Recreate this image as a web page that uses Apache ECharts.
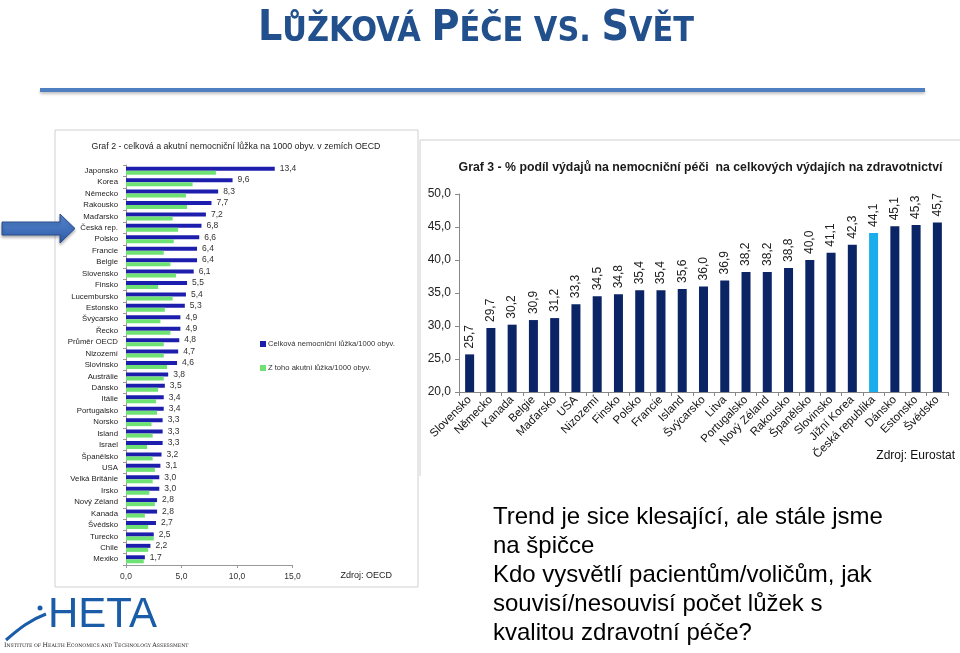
<!DOCTYPE html>
<html>
<head>
<meta charset="utf-8">
<script src="https://cdn.jsdelivr.net/npm/echarts@6/dist/echarts.min.js"></script>
<style>
html,body{margin:0;padding:0;background:#fff;}
#c{width:960px;height:653px;}
</style>
</head>
<body>
<div id="c"></div>
<script>
// Graf 2 data
var cat2 = ['Japonsko','Korea','Německo','Rakousko','Maďarsko','Česká rep.','Polsko','Francie','Belgie','Slovensko','Finsko','Lucembursko','Estonsko','Švýcarsko','Řecko','Průměr OECD','Nizozemí','Slovinsko','Austrálie','Dánsko','Itálie','Portugalsko','Norsko','Island','Israel','Španělsko','USA','Velká Británie','Irsko','Nový Zéland','Kanada','Švédsko','Turecko','Chile','Mexiko'];
var total2 = [13.4,9.6,8.3,7.7,7.2,6.8,6.6,6.4,6.4,6.1,5.5,5.4,5.3,4.9,4.9,4.8,4.7,4.6,3.8,3.5,3.4,3.4,3.3,3.3,3.3,3.2,3.1,3.0,3.0,2.8,2.8,2.7,2.5,2.2,1.7];
var acute2 = [8.1,6.0,5.4,5.5,4.2,4.7,4.3,3.4,4.0,4.5,2.9,4.2,3.5,3.1,4.0,3.4,3.4,3.7,3.4,2.9,2.7,2.8,2.3,2.4,1.9,2.4,2.6,2.4,2.1,2.6,1.7,2.0,2.5,2.0,1.6];
var ticks2 = [0,5,10,15];
var seriesNames2 = ['Celková nemocniční lůžka/1000 obyv.','Z toho akutní lůžka/1000 obyv.'];

// Graf 3 data
var cat3 = ['Slovensko','Německo','Kanada','Belgie','Maďarsko','USA','Nizozemí','Finsko','Polsko','Francie','Island','Švýcarsko','Litva','Portugalsko','Nový Zéland','Rakousko','Španělsko','Slovinsko','Jižní Korea','Česká republika','Dánsko','Estonsko','Švédsko'];
var share3 = [25.7,29.7,30.2,30.9,31.2,33.3,34.5,34.8,35.4,35.4,35.6,36.0,36.9,38.2,38.2,38.8,40.0,41.1,42.3,44.1,45.1,45.3,45.7];
var highlight3 = 'Česká republika';
var ticks3 = [20,25,30,35,40,45,50];

function fmt1(v){ return Number(v).toFixed(1).replace('.', ','); }

var chart = echarts.init(document.getElementById('c'), null, {renderer:'canvas'});

var data3 = share3.map(function(v,i){
  return cat3[i] === highlight3 ? {value:v, itemStyle:{color:'#1AADEE'}} : v;
});

var SANS = 'Liberation Sans, Arial, sans-serif';
var COND = 'DejaVu Sans Condensed, DejaVu Sans, sans-serif';

var option = {
  animation:false,
  backgroundColor:'#ffffff',
  grid:[
    {left:126, top:165, width:166.5, height:400, containLabel:false},
    {left:459, top:194, width:489, height:198, containLabel:false}
  ],
  legend:{
    data:seriesNames2,
    orient:'vertical',
    left:255, top:335,
    itemWidth:6, itemHeight:6, itemGap:16,
    icon:'rect',
    textStyle:{fontSize:7.6, color:'#333', fontFamily:SANS, padding:[0,0,0,-3]}
  },
  xAxis:[
    {gridIndex:0, type:'value', min:ticks2[0], max:ticks2[ticks2.length-1], interval:5,
     axisLine:{show:true, lineStyle:{color:'#999'}},
     axisTick:{show:true, length:3, lineStyle:{color:'#999'}},
     splitLine:{show:false},
     axisLabel:{fontSize:8.5, color:'#333', fontFamily:SANS, margin:7, formatter:fmt1}},
    {gridIndex:1, type:'category', data:cat3,
     axisLine:{show:true, lineStyle:{color:'#888'}},
     axisTick:{show:true, length:4, alignWithLabel:false, lineStyle:{color:'#888'}},
     axisLabel:{rotate:45, fontSize:11.5, color:'#111', fontFamily:SANS, margin:6, interval:0}}
  ],
  yAxis:[
    {gridIndex:0, type:'category', data:cat2, inverse:true,
     axisLine:{show:true, lineStyle:{color:'#999'}},
     axisTick:{show:true, length:3, lineStyle:{color:'#999'}},
     axisLabel:{fontSize:7.8, color:'#222', fontFamily:SANS, margin:8, interval:0}},
    {gridIndex:1, type:'value', min:ticks3[0], max:ticks3[ticks3.length-1], interval:5,
     axisLine:{show:true, lineStyle:{color:'#888'}},
     axisTick:{show:true, length:4, lineStyle:{color:'#888'}},
     splitLine:{show:false},
     axisLabel:{fontSize:12, color:'#222', fontFamily:SANS, margin:8, formatter:fmt1}}
  ],
  series:[
    {name:seriesNames2[0], type:'bar', xAxisIndex:0, yAxisIndex:0, data:total2,
     barWidth:4, barGap:'0%', itemStyle:{color:'#1E1EAE'},
     label:{show:true, position:'right', distance:5, fontSize:8.5, color:'#333', fontFamily:SANS, formatter:function(p){return fmt1(p.value);}}},
    {name:seriesNames2[1], type:'bar', xAxisIndex:0, yAxisIndex:0, data:acute2,
     barWidth:4, barGap:'0%', itemStyle:{color:'#6EE273'}},
    {name:'Graf 3', type:'bar', xAxisIndex:1, yAxisIndex:1, data:data3,
     barWidth:9, itemStyle:{color:'#0B2466'},
     label:{show:true, position:'top', rotate:90, align:'left', verticalAlign:'middle', distance:6,
            fontSize:12, color:'#222', fontFamily:SANS, formatter:function(p){return fmt1(p.value);}}}
  ],
  graphic:[
    // main title
    {type:'text', x:476, y:7, z:10,
     style:{
       text:'{a|L}{b|ŮŽKOVÁ }{a|P}{b|ÉČE VS. }{a|S}{b|VĚT}',
       align:'center', verticalAlign:'top',
       rich:{
         a:{fontSize:42.5, fontWeight:'bold', fontFamily:COND, fill:'#22508D', verticalAlign:'bottom'},
         b:{fontSize:33.8, fontWeight:'bold', fontFamily:COND, fill:'#22508D', verticalAlign:'bottom', padding:[0,0,1,0]}
       }
     }},
    // blue rule
    {type:'rect', shape:{x:40, y:88, width:885, height:4}, z:5,
     style:{fill:'#4F7FC0', shadowBlur:3, shadowColor:'rgba(0,0,0,0.25)', shadowOffsetY:2}},
    // left panel border
    {type:'rect', shape:{x:55, y:130, width:363, height:457}, z:-1,
     style:{fill:'#fff', stroke:'#d0d0d0', lineWidth:1}},
    // right panel border
    {type:'polyline', shape:{points:[[420,476],[420,140],[960,140]]}, z:-1,
     style:{stroke:'#cfcfcf', lineWidth:1, fill:null}},
    // left chart title
    {type:'text', x:236, y:147, z:10,
     style:{text:'Graf 2 - celková a akutní nemocniční lůžka na 1000 obyv. v zemích OECD', fontSize:8.8,
            fontFamily:SANS, fill:'#222', align:'center', verticalAlign:'middle'}},
    {type:'text', x:392, y:576, z:10,
     style:{text:'Zdroj: OECD', fontSize:9, fontFamily:SANS, fill:'#222', align:'right', verticalAlign:'middle'}},
    // right chart title
    {type:'text', x:700.5, y:168, z:10,
     style:{text:'Graf 3 - % podíl výdajů na nemocniční péči  na celkových výdajích na zdravotnictví', fontSize:12.3, fontWeight:'bold',
            fontFamily:SANS, fill:'#1a1a1a', align:'center', verticalAlign:'middle'}},
    {type:'text', x:955, y:456, z:10,
     style:{text:'Zdroj: Eurostat', fontSize:12, fontFamily:SANS, fill:'#111', align:'right', verticalAlign:'middle'}},
    // bottom right text
    {type:'text', x:493, y:502.5, z:10,
     style:{text:'Trend je sice klesající, ale stále jsme\nna špičce\nKdo vysvětlí pacientům/voličům, jak\nsouvisí/nesouvisí počet lůžek s\nkvalitou zdravotní péče?',
            fontSize:24, lineHeight:29.1, fontFamily:SANS, fill:'#000', align:'left', verticalAlign:'top'}},
    // arrow
    {type:'polygon', z:10,
     shape:{points:[[2,222],[60,222],[60,214],[75,228.5],[60,243],[60,235],[2,235]]},
     style:{fill:new echarts.graphic.LinearGradient(0,0,0,1,[{offset:0,color:'#5B8AD4'},{offset:1,color:'#2C5AA6'}]),
            stroke:'#2A4E8E', lineWidth:1, shadowBlur:3, shadowColor:'rgba(0,0,0,0.3)', shadowOffsetY:2}},
    // HETA logo
    {type:'text', x:48, y:594, z:10,
     style:{text:'HETA', fontSize:42, fontFamily:SANS, fill:'#1B5CA8', align:'left', verticalAlign:'top'}},
    {type:'bezierCurve', z:10,
     shape:{x1:6, y1:640, x2:46, y2:614, cpx1:20, cpy1:628, cpx2:30, cpy2:620},
     style:{stroke:'#1B5CA8', lineWidth:3, fill:null}},
    {type:'circle', z:10, shape:{cx:40, cy:608, r:2.5}, style:{fill:'#1B5CA8'}},
    {type:'text', x:4, y:645, z:10,
     style:{text:'{a|I}{b|NSTITUTE OF }{a|H}{b|EALTH }{a|E}{b|CONOMICS AND }{a|T}{b|ECHNOLOGY }{a|A}{b|SSESSMENT}',
            verticalAlign:'middle', align:'left',
            rich:{a:{fontSize:6.3, fontFamily:'DejaVu Serif, serif', fill:'#222', verticalAlign:'bottom'},
                  b:{fontSize:4.7, fontFamily:'DejaVu Serif, serif', fill:'#222', verticalAlign:'bottom'}}}}
  ]
};
chart.setOption(option);
</script>
</body>
</html>
